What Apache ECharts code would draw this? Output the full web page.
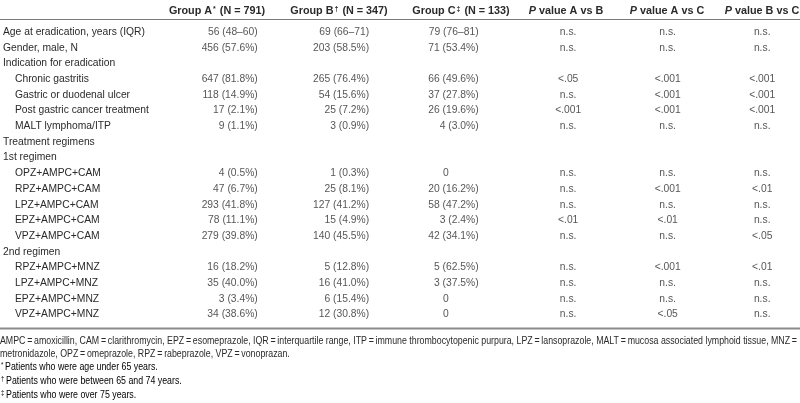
<!DOCTYPE html>
<html><head><meta charset="utf-8">
<script src="https://cdn.jsdelivr.net/npm/echarts@6/dist/echarts.min.js"></script>
<style>html,body{margin:0;padding:0;background:#fff}#c{width:800px;height:403px}</style>
</head><body><div id="c"></div>
<script>
// ---- data ----
const rowLabels = ['Age at eradication, years (IQR)','Gender, male, N','Indication for eradication','Chronic gastritis','Gastric or duodenal ulcer','Post gastric cancer treatment','MALT lymphoma/ITP','Treatment regimens','1st regimen','OPZ+AMPC+CAM','RPZ+AMPC+CAM','LPZ+AMPC+CAM','EPZ+AMPC+CAM','VPZ+AMPC+CAM','2nd regimen','RPZ+AMPC+MNZ','LPZ+AMPC+MNZ','EPZ+AMPC+MNZ','VPZ+AMPC+MNZ'];
const rowIndent = [0,0,0,1,1,1,1,0,0,1,1,1,1,1,0,1,1,1,1];
const groupA = ['56 (48–60)','456 (57.6%)','','647 (81.8%)','118 (14.9%)','17 (2.1%)','9 (1.1%)','','','4 (0.5%)','47 (6.7%)','293 (41.8%)','78 (11.1%)','279 (39.8%)','','16 (18.2%)','35 (40.0%)','3 (3.4%)','34 (38.6%)'];
const groupB = ['69 (66–71)','203 (58.5%)','','265 (76.4%)','54 (15.6%)','25 (7.2%)','3 (0.9%)','','','1 (0.3%)','25 (8.1%)','127 (41.2%)','15 (4.9%)','140 (45.5%)','','5 (12.8%)','16 (41.0%)','6 (15.4%)','12 (30.8%)'];
const groupC = ['79 (76–81)','71 (53.4%)','','66 (49.6%)','37 (27.8%)','26 (19.6%)','4 (3.0%)','','','0','20 (16.2%)','58 (47.2%)','3 (2.4%)','42 (34.1%)','','5 (62.5%)','3 (37.5%)','0','0'];
const pAB = ['n.s.','n.s.','','<.05','n.s.','<.001','n.s.','','','n.s.','n.s.','n.s.','<.01','n.s.','','n.s.','n.s.','n.s.','n.s.'];
const pAC = ['n.s.','n.s.','','<.001','<.001','<.001','n.s.','','','n.s.','<.001','n.s.','<.01','n.s.','','<.001','n.s.','n.s.','<.05'];
const pBC = ['n.s.','n.s.','','<.001','<.001','<.001','n.s.','','','n.s.','<.01','n.s.','n.s.','<.05','','<.01','n.s.','n.s.','n.s.'];
const footnotes = [
  'AMPC\u2009=\u2009amoxicillin, CAM\u2009=\u2009clarithromycin, EPZ\u2009=\u2009esomeprazole, IQR\u2009=\u2009interquartile range, ITP\u2009=\u2009immune thrombocytopenic purpura, LPZ\u2009=\u2009lansoprazole, MALT\u2009=\u2009mucosa associated lymphoid tissue, MNZ\u2009=',
  'metronidazole, OPZ\u2009=\u2009omeprazole, RPZ\u2009=\u2009rabeprazole, VPZ\u2009=\u2009vonoprazan.'
];
const markNotes = [['*','Patients who were age under 65 years.'],['†','Patients who were between 65 and 74 years.'],['‡','Patients who were over 75 years.']];

// ---- layout / style ----
const FONT = "'Liberation Sans', Arial, sans-serif";
const FS = 10.3;
const HFS = 10.8;   // header font size
const FFS = 10.3;   // footnote font size
const TXT = '#2a2a2a';
const columns = [
  {values: groupA, x: 255, align: 'right', hx: 217, head: [['b','Group A'],['sup','*'],['b',' (N = 791)']]},
  {values: groupB, x: 367, align: 'right', hx: 339, head: [['b','Group B'],['sup','†'],['b',' (N = 347)']]},
  {values: groupC, x: 477, align: 'right', hx: 461, head: [['b','Group C'],['sup','‡'],['b',' (N = 133)']]},
  {values: pAB, x: 567, align: 'center', hx: 566, head: [['bi','P'],['b',' value A vs B']]},
  {values: pAC, x: 667, align: 'center', hx: 667, head: [['bi','P'],['b',' value A vs C']]},
  {values: pBC, x: 762, align: 'center', hx: 762, head: [['bi','P'],['b',' value B vs C']]}
];
const ROW0 = 32, PITCH = 15.7;
const gridTop = ROW0 - PITCH / 2;
const gridH = PITCH * rowLabels.length;

// footnote horizontal compression so that the first note line fills the width (797px)
const ctx = document.createElement('canvas').getContext('2d');
ctx.font = FFS + "px 'Liberation Sans', Arial, sans-serif";
const footScale = Math.min(1, 797 / ctx.measureText(footnotes[0]).width);

const richHead = {
  b: {fontFamily: FONT, fontSize: HFS, fontWeight: 'bold', color: TXT},
  bi: {fontFamily: FONT, fontSize: HFS, fontWeight: 'bold', fontStyle: 'italic', color: TXT},
  sup: {fontFamily: FONT, fontSize: 7, fontWeight: 'bold', color: TXT, verticalAlign: 'top', padding: [0, 1, 4, 1]}
};

const series = columns.map(col => ({
  type: 'scatter',
  symbolSize: 0,
  silent: true,
  itemStyle: {color: 'transparent'},
  data: col.values.map((v, i) => {
    const item = {value: [col.x, i, v]};
    if (v === '0') item.label = {padding: [0, 30, 0, 0]};
    return item;
  }).filter(d => d.value[2] !== ''),
  label: {
    show: true,
    position: col.align === 'right' ? 'left' : 'inside',
    distance: 0,
    formatter: p => p.value[2],
    fontFamily: FONT, fontSize: FS, color: TXT
  }
}));

const graphic = [];
columns.forEach(col => {
  graphic.push({
    type: 'text', x: col.hx, y: 11,
    style: {
      text: col.head.map(([s, t]) => '{' + s + '|' + t + '}').join(''),
      rich: richHead, align: 'center', verticalAlign: 'middle',
      fontFamily: FONT, fontSize: HFS, fill: TXT
    }
  });
});
graphic.push({type: 'rect', shape: {x: 0, y: 19, width: 800, height: 1}, style: {fill: '#7a7a7a'}});
graphic.push({type: 'rect', shape: {x: 0, y: 327.5, width: 800, height: 2}, style: {fill: '#8a8a8a'}});
footnotes.forEach((t, i) => {
  graphic.push({type: 'text', x: 0, y: 341 + i * 13, scaleX: footScale,
    style: {text: t, fontFamily: FONT, fontSize: FFS, fill: TXT, verticalAlign: 'middle'}});
});
markNotes.forEach(([m, t], i) => {
  graphic.push({type: 'text', x: 1, y: 367.5 + i * 14, scaleX: footScale, style: {
    text: '{s|' + m + '}{t|' + t + '}', verticalAlign: 'middle',
    rich: {s: {fontFamily: FONT, fontSize: 7, color: TXT, verticalAlign: 'top', padding: [0, 2, 4, 0]},
           t: {fontFamily: FONT, fontSize: FFS, color: TXT}}
  }});
});

const chart = echarts.init(document.getElementById('c'), null, {renderer: 'canvas'});
chart.setOption({
  animation: false,
  backgroundColor: '#fff',
  grid: {left: 0, right: 0, top: gridTop, height: gridH},
  xAxis: {type: 'value', min: 0, max: 800, show: false},
  yAxis: {
    type: 'category', inverse: true, data: rowLabels,
    axisLine: {show: false}, axisTick: {show: false}, splitLine: {show: false},
    axisLabel: {
      interval: 0, align: 'left', margin: 1,
      formatter: (v, i) => rowIndent[i] ? '{i|' + v + '}' : '{n|' + v + '}',
      rich: {
        i: {fontFamily: FONT, fontSize: FS, color: TXT, padding: [0, 0, 0, 12]},
        n: {fontFamily: FONT, fontSize: FS, color: TXT}
      }
    }
  },
  series,
  graphic
});
</script></body></html>
